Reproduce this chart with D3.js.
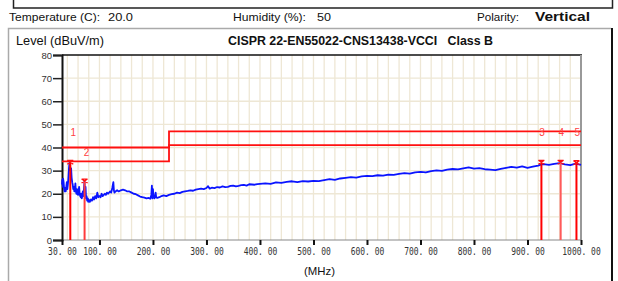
<!DOCTYPE html>
<html><head><meta charset="utf-8">
<script src="https://cdn.jsdelivr.net/npm/d3@7"></script>
<style>body{margin:0;background:#fff}svg{display:block}</style>
</head><body>
<svg id="c" width="618" height="281"></svg>
<script>
// ---- data ----
const yTicks = [0,10,20,30,40,50,60,70,80];
const xTicks = [30,100,200,300,400,500,600,700,800,900,1000];
const xTickLabels = ["30. 00","100. 00","200. 00","300. 00","400. 00","500. 00","600. 00","700. 00","800. 00","900. 00","1000. 00"];
const xGrid = d3.range(40, 1000, 20);
const yGrid = [10,20,30,40,50,60,70];
// limit lines: [freq, level]
const limit1 = [[30,40],[230,40],[230,47],[1000,47]];
const limit2 = [[30,34],[230,34],[230,41],[1000,41]];
const limitLabels = [{t:"1",f:51,v:46.5},{t:"2",f:76,v:38},{t:"3",f:927,v:46.6},{t:"4",f:963,v:46.6},{t:"5",f:993,v:46.6}];
// markers
const markerFreq = [45.5, 72.2, 926, 962, 991.5];
const markerLevel = [33.6, 25.5, 33.6, 33.6, 33.4];
// measured trace
const traceFreq = [30,30.5,31,31.5,32,33,34,35,36,37,38,39,40,41,42,43,44,45,46,47,48,49,50,51,52,53,54,55,56,57,58,59,60,61,62,63,64,65,66,67,68,69,70,71,72,73,74,75,76,77,78,79,80,82,84,86,88,90,92,94,96,98,100,102,104,106,108,110,112,114,116,118,120,122,124,126,127,128,130,133,136,140,144,148,152,156,160,164,168,172,176,180,184,188,192,195,197,198,199,200,201,203,205,206,208,212,216,220,225,230,235,240,245,250,255,260,265,270,275,280,285,290,295,300,303,306,310,315,320,325,330,335,340,345,350,355,360,365,370,375,380,385,390,395,400,410,420,430,440,450,460,470,480,490,500,510,520,530,540,550,560,570,580,590,600,610,620,630,640,650,660,670,680,690,700,710,720,730,740,750,760,770,780,790,800,810,820,830,840,850,860,870,880,890,900,910,920,925,930,940,950,960,970,980,990,1000];
const traceLevel = [24,26,25,23,26.5,25,22,21,22.5,21,23,25,22,24,27,31,33.5,32,30,31,27,25,24,22,23,21,22,24.5,21,20,22,20,19.5,21,23,20,19,18.5,20,18,19,21,19,22,25.5,20,23,18,19,17,18,16.5,17.5,16.5,17.5,17,18.5,17.5,19,18,20.5,18.5,19,18.5,20,19,19.5,20,19.5,20.5,20,20.5,21,20.5,22.5,25,21.5,20.5,21,21.5,21,21.5,21.8,21.5,21,21,20.5,20,19.8,19.3,18.8,18.5,18.3,18,18.2,17.8,19.5,23.5,18,22,18.5,18,20.5,18.5,18.2,18.5,19,19.3,19,19.5,19.8,20,20.5,20.3,20.8,21,21.2,21.5,21.3,21.8,22,22.2,22,22.5,23.3,22.2,22.6,22.4,22.9,22.7,23.2,22.9,23.0,23.4,23.5,23.2,23.4,23.7,23.8,23.5,24.1,24.0,23.9,24.2,24.3,24.5,24.3,24.9,24.7,25.1,25.4,25.0,25.5,25.3,25.6,25.5,25.9,26.3,26.0,26.6,26.9,27.2,27.0,27.5,27.7,27.6,28.0,27.8,28.3,28.2,28.6,28.9,28.7,29.2,29.5,29.2,29.8,30.1,29.9,30.4,30.7,30.5,31.0,31.4,30.9,31.1,30.6,30.4,30.2,30.8,31.2,31.6,31.3,31.8,31.2,31.7,32.2,32.6,32.8,32.5,32.9,33.2,32.7,32.4,33.0,32.5];

// ---- drawing ----
const svg = d3.select("#c");
const L=62, R=581, T=55, B=240;
const x = d3.scaleLinear().domain([30,1000]).range([L,R]);
const y = d3.scaleLinear().domain([0,80]).range([B,T]);

// frames
svg.append("path").attr("d","M13.5,0 V8 H612.5 V0").attr("fill","none").attr("stroke","#222").attr("stroke-width",1.5);
svg.append("path").attr("d","M8.5,290 V28.5 H611").attr("fill","none").attr("stroke","#aaa").attr("stroke-width",1.5);
svg.append("line").attr("x1",612).attr("x2",612).attr("y1",28).attr("y2",290).attr("stroke","#111").attr("stroke-width",2);

// header texts
const hdr = svg.append("g").attr("font-family","Arial, Liberation Sans, sans-serif").attr("font-size",10.5).attr("fill","#111");
function txt(s,xp,yp,w,opts){
  const t = hdr.append("text").attr("x",xp).attr("y",yp).attr("xml:space","preserve").text(s);
  if(w) t.attr("textLength",w).attr("lengthAdjust","spacingAndGlyphs");
  if(opts) Object.entries(opts).forEach(([k,v])=>t.attr(k,v));
  return t;
}
txt("Temperature (C):",9,21,91);
txt("20.0",108,21,25,{"font-size":11});
txt("Humidity (%):",233,21,73);
txt("50",317,21,14,{"font-size":11});
txt("Polarity:",477,21,42);
txt("Vertical",535,21,55,{"font-size":12.5,"font-weight":"bold"});
txt("Level (dBuV/m)",16,45,88,{"font-size":12});
txt("CISPR 22-EN55022-CNS13438-VCCI   Class B",228,45,265,{"font-size":12,"font-weight":"bold"});
txt("(MHz)",304,275,31,{"font-size":10.5});

// grid
const grid = svg.append("g").attr("stroke","#eee7d5").attr("stroke-width",1.3);
grid.selectAll("line.v").data(xGrid).join("line").attr("class","v")
  .attr("x1",d=>x(d)).attr("x2",d=>x(d)).attr("y1",T).attr("y2",B);
grid.selectAll("line.h").data(yGrid).join("line").attr("class","h")
  .attr("x1",L).attr("x2",R).attr("y1",d=>y(d)).attr("y2",d=>y(d));

// plot border
svg.append("line").attr("x1",L).attr("x2",R+1).attr("y1",T).attr("y2",T).attr("stroke","#111").attr("stroke-width",1.5);
svg.append("line").attr("x1",R).attr("x2",R).attr("y1",T).attr("y2",B).attr("stroke","#999").attr("stroke-width",2);
svg.append("line").attr("x1",L).attr("x2",R).attr("y1",B).attr("y2",B).attr("stroke","#888").attr("stroke-width",1);

// axes
const yAxis = svg.append("g").attr("transform",`translate(${L},0)`)
  .call(d3.axisLeft(y).tickValues(yTicks).tickSize(9).tickPadding(1));
yAxis.select(".domain").attr("stroke","#111").attr("stroke-width",2);
yAxis.selectAll(".tick line").attr("stroke","#222").attr("stroke-width",1.5);
yAxis.selectAll(".tick text").attr("font-family","Arial, sans-serif").attr("font-size",9.5).attr("fill","#333");

const xAxis = svg.append("g").attr("transform",`translate(0,${B})`)
  .call(d3.axisBottom(x).tickValues(xTicks).tickSize(5).tickPadding(3).tickFormat((d,i)=>xTickLabels[i]));
xAxis.select(".domain").remove();
xAxis.selectAll(".tick line").attr("stroke","#111").attr("stroke-width",2);
xAxis.selectAll(".tick text").attr("font-family","DejaVu Sans Mono, monospace").attr("font-size",10.5).attr("fill","#333")
  .attr("textLength",(d,i)=>xTickLabels[i].length*4.8).attr("lengthAdjust","spacingAndGlyphs");

// limit lines
const lineGen = d3.line().x(d=>x(d[0])).y(d=>y(d[1]));
[limit1,limit2].forEach(lim=>{
  svg.append("path").attr("d",lineGen(lim)).attr("fill","none").attr("stroke","#ff1010").attr("stroke-width",1.8);
});

// trace
const pts = traceFreq.map((f,i)=>[f,traceLevel[i]]);
svg.append("path").attr("d",lineGen(pts)).attr("fill","none").attr("stroke","#0a14ff").attr("stroke-width",1.8).attr("stroke-linejoin","round");

// markers
const mColors = ["#ff0000","#ff3b3b","#ff0000","#ff5a5a","#ff0000"];
markerFreq.forEach((f,i)=>{
  svg.append("line").attr("x1",x(f)).attr("x2",x(f)).attr("y1",y(markerLevel[i])).attr("y2",B)
    .attr("stroke",mColors[i]).attr("stroke-width",2);
  const cx=x(f), cy=y(markerLevel[i]);
  svg.append("path").attr("d",`M${cx-3},${cy-2} L${cx+3},${cy+2} M${cx-3},${cy+2} L${cx+3},${cy-2} M${cx-3},${cy-2} H${cx+3}`)
    .attr("stroke","#ff1010").attr("stroke-width",1.3).attr("fill","none");
});

// limit labels
svg.selectAll("text.ll").data(limitLabels).join("text").attr("class","ll")
  .attr("x",d=>x(d.f)).attr("y",d=>y(d.v)).attr("dy","0.35em").attr("text-anchor","middle")
  .attr("font-family","Arial, sans-serif").attr("font-size",10).attr("fill","#ff4040").text(d=>d.t);
</script>
</body></html>
